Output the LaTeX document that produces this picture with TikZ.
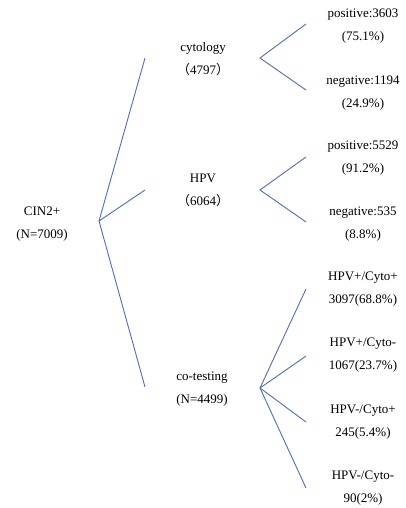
\documentclass[tikz,border=0pt]{standalone}
\usepackage{fontspec}
\setmainfont{Liberation Serif}
\newfontfamily\cjk{Noto Sans CJK SC}
\definecolor{branch}{RGB}{80,110,180}
\tikzset{
  lbl/.style={align=center, inner sep=0pt, font=\fontsize{13}{23}\selectfont},
  twig/.style={draw=branch, line width=0.9pt}
}
\begin{document}
\begin{tikzpicture}[x=1pt, y=-1pt]
  \useasboundingbox (0,0) rectangle (405,508);
  % root
  \node[lbl] (root) at (42,224) {CIN2+\\(N=7009)};
  \coordinate (r0) at (99,221);
  % second level
  \node[lbl] (cyto) at (203,59) {cytology\\{\cjk （}4797{\cjk ）}};
  \node[lbl] (hpv) at (203,190) {HPV\\{\cjk （}6064{\cjk ）}};
  \node[lbl] (cot) at (202,389.5) {co-testing\\(N=4499)};
  \coordinate (r1) at (145,58);
  \coordinate (r2) at (145,190);
  \coordinate (r3) at (145,387);
  \draw[twig] (r0) -- (r1);
  \draw[twig] (r0) -- (r2);
  \draw[twig] (r0) -- (r3);

  % cytology results
  \node[lbl] (cpos) at (363,26.5) {positive:3603\\(75.1\%)};
  \node[lbl] (cneg) at (363,93) {negative:1194\\(24.9\%)};
  \coordinate (c0) at (260,58);
  \coordinate (c1) at (306,24);
  \coordinate (c2) at (306,90);
  \draw[twig] (c1) -- (c0) -- (c2);

  % HPV results
  \node[lbl] (hpos) at (363,158.5) {positive:5529\\(91.2\%)};
  \node[lbl] (hneg) at (363,224) {negative:535\\(8.8\%)};
  \coordinate (h0) at (260,190);
  \coordinate (h1) at (306,157);
  \coordinate (h2) at (306,222);
  \draw[twig] (h1) -- (h0) -- (h2);

  % co-testing results
  \node[lbl] (pp) at (363,289) {HPV+/Cyto+\\3097(68.8\%)};
  \node[lbl] (pn) at (363,355.5) {HPV+/Cyto-\\1067(23.7\%)};
  \node[lbl] (np) at (363,422.5) {HPV-/Cyto+\\245(5.4\%)};
  \node[lbl] (nn) at (363,488) {HPV-/Cyto-\\90(2\%)};
  \coordinate (k0) at (260,388);
  \foreach \y/\n in {289/1,356/2,422/3,488/4}
    \coordinate (k\n) at (306,\y);
  \foreach \n in {1,...,4}
    \draw[twig] (k0) -- (k\n);
\end{tikzpicture}
\end{document}
